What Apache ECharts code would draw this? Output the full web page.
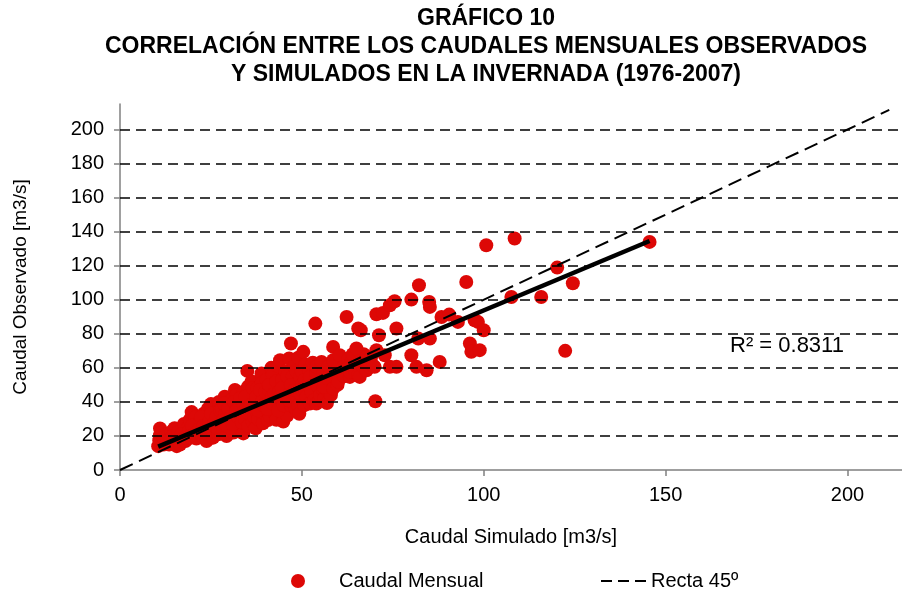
<!DOCTYPE html>
<html>
<head>
<meta charset="utf-8">
<script src="https://cdn.jsdelivr.net/npm/echarts@6/dist/echarts.min.js"></script>
<style>
  html, body { margin: 0; padding: 0; background: #fff; }
  #chart { width: 902px; height: 594px; }
</style>
</head>
<body>
<div id="chart"></div>
<script>
// caudal simulado / observado [m3/s]
const caudalMensual = [
  [10.5,14],[10.8,17.5],[11,20.5],[11,24.4],[11.6,22],[12,15],[12.4,18],[12.8,21],[12,19],[13,17],
  [13.5,15],[14,19],[14.2,22.5],[14.8,17],[15,24.5],[15.6,14],[15.8,20.5],[14.5,20],[16,17],[16,22],
  [16.5,15],[16.8,19],[17.4,23.5],[17.6,27],[18,17],[18.5,21],[18.8,25],[19.2,29.5],[17,21],[18,19],[19,23],
  [19.7,34],[19.5,19],[20,23],[20.3,27],[20.8,31],[21,18.5],[21.3,22],[21.6,26],[22,29],[19.8,26],[20.5,21],[21.8,24],
  [22.5,20],[22.8,24],[23,33],[23.3,28],[23.8,17],[24,21],[24.2,36],[24.5,31],[24.8,26],[22.3,31],[23,26],[23.5,22],[24.5,28],
  [25,38.7],[25.3,23],[25.6,19],[26,29],[26.3,34],[26.6,25],[27,21],[27.2,40],[27.5,31],[27.8,27],[25,33],[25.8,27],[26.5,31],[27,24],[27.5,35],
  [28,36],[28.4,23],[28.8,43],[29,33],[29.3,20],[29.6,29],[30,38],[30.3,25],[30.6,41],[30.9,35],[28.2,29],[28.6,39],[29.3,26],[29.8,36],[30.5,31],
  [31.2,22],[31.6,47],[31.8,30],[32,44],[32.3,27],[32.6,37],[33,33],[33.3,24],[33.6,40],[33.9,21.5],[34,46],[31,27],[31.4,40],[32,35],[32.5,31],[33,42],[33.5,28],[34,38],
  [34.4,30],[34.7,36],[35,58.2],[35.2,49],[35.3,26],[35.6,42],[35.8,33],[36.2,52],[36.5,28],[36.8,45],[37,39],[34.5,43],[35,34],[36,38],[36.5,48],[37,31],
  [37.3,24.5],[37.6,34],[37.8,48],[38,30],[38.3,42],[38.6,37],[38.9,56.7],[39,51],[39.3,27.5],[39.6,45],[39.9,33],[40,40],[37.5,43],[38,35],[38.5,47],[39,40],[39.5,38],[40,46],
  [40.3,53],[40.7,29.3],[41,47],[41.2,31.5],[41.4,37],[41.6,60],[41.8,43],[42,56],[42.3,34],[42.6,50],[43,29.5],[43,40],[40.5,36],[41,50],[42,39],[42.5,45],[43,52],
  [43.4,61],[43.7,46],[44,64.5],[44.2,36],[44.6,53],[44.9,35.2],[44.9,28.5],[45.2,42],[45.5,58],[45.8,49],[46,32],[43.5,35],[44,43],[44.5,48],[45,38],[46,55],
  [46.5,65.5],[46.7,45],[47,74.3],[47.2,39],[47,38],[47.5,55],[47.8,44],[48,61],[48.3,36],[48.6,51],[48.9,42],[49,66],[46.5,41],[47,50],[48,47],[48.5,58],[49,38],
  [49.3,33],[49.5,54.7],[49.5,45],[50,47],[50,50],[50,58],[51,46],[52,52],[53,44],[53.5,55],
  [50.4,69.4],[50.6,38],[50.8,53],[51,62],[51.3,43],[51.6,50],[52,58.6],[52.2,54.7],[52.2,39.1],[52.2,48.9],
  [52.6,46],[53,63],[53.4,41],[53.7,86],[54,56.7],[54,60.6],[54,39.1],[54.4,49],[54.9,41],[55,44],[55.4,63.5],
  [55.9,56.7],[55.9,46.9],[56.2,42],[56.5,52],[56.9,39.3],[57,47],[57.4,61],[57.7,48.9],[58,44],[58.6,52.8],
  [56,49],[57,54],[59,60],[60,62],[62,63],[64,61],[66,58],[67,68],
  [58.6,72.3],[58.6,64.5],[58.6,47.9],[59,56],[59.8,50],[60,52],[60.4,67.4],[60.8,58],[61,57],[61.4,60.6],
  [61.6,55],[62.3,59.6],[62.3,89.9],[62.8,65],[63.2,54.7],[63.2,57.7],[63.5,63],[64,68],[64.5,59],
  [65,71.4],[65.5,83.1],[65.5,55.7],[65.9,54.7],[66,64],[66.2,82.1],[66.8,60.6],[67.8,58.6],[67.8,66.5],
  [68,63],[68.7,60.6],[69,66],[69.6,61.2],[70,60.6],[70.2,40.4],[70.5,70.4],[70.5,91.5],[71.2,79.2],
  [72.3,92.3],[72.8,67.4],[74.2,60.6],[74.2,96.8],[75.5,99.1],[76,60.6],[76,83.1],
  [80.1,100.1],[80.1,67.4],[81.5,60.6],[82,77.2],[82.2,108.5],[84.3,58.6],[85,98.7],[85.2,95.8],[85.2,77.2],
  [87.9,63.5],[88.4,89.9],[90.5,91.3],[92.9,87],[95.2,110.4],[96.2,74.3],[96.6,69.4],[97.5,88],[98.4,87],
  [98.9,70.4],[100,82.1],[100.7,132],[107.6,101.6],[108.5,136],[115.8,101.6],[120.2,118.9],[122.4,70],
  [124.5,109.7],[145.6,134]
];
// recta de regresion (extremos) y recta 45 grados
const rectaTendencia = [[10.5, 13.7], [145.6, 134.5]];
const recta45 = [[0, 0], [211.5, 211.5]];
const ejeX = [0, 50, 100, 150, 200];
const ejeY = [0, 20, 40, 60, 80, 100, 120, 140, 160, 180, 200];
const r2 = 0.8311;

const FONT = 'Liberation Sans';
const myChart = echarts.init(document.getElementById('chart'));

const option = {
  animation: false,
  backgroundColor: '#fff',
  textStyle: { fontFamily: FONT, color: '#000' },
  title: {
    text: 'GRÁFICO 10\nCORRELACIÓN ENTRE LOS CAUDALES MENSUALES OBSERVADOS\nY SIMULADOS EN LA INVERNADA (1976-2007)',
    left: 486,
    top: 5,
    padding: 0,
    textAlign: 'center',
    textStyle: { fontFamily: FONT, fontSize: 23, fontWeight: 'bold', color: '#000', lineHeight: 28 }
  },
  legend: [
    {
      data: ['Caudal Mensual'],
      left: 286, top: 566,
      icon: 'circle',
      itemWidth: 14, itemHeight: 14,
      textStyle: { fontFamily: FONT, fontSize: 20, color: '#000', padding: [0, 0, 0, 29] }
    },
    {
      data: ['Recta 45º'],
      left: 596, top: 566,
      // tres guiones, como el original
      icon: 'path://M0,0h11v2h-11z M17,0h11v2h-11z M34,0h11v2h-11z',
      itemWidth: 45, itemHeight: 2,
      itemStyle: { color: '#000' },
      textStyle: { fontFamily: FONT, fontSize: 20, color: '#000' }
    }
  ],
  grid: { left: 120, right: 0, top: 104, bottom: 124 },
  xAxis: {
    type: 'value', min: 0, max: 215,
    name: 'Caudal Simulado [m3/s]',
    nameLocation: 'middle', nameGap: 57,
    nameTextStyle: { fontFamily: FONT, fontSize: 20, color: '#000' },
    axisLine: { lineStyle: { color: '#808080', width: 1.5 } },
    axisTick: { show: true, length: 6, customValues: ejeX, lineStyle: { color: '#808080', width: 1.5 } },
    axisLabel: { customValues: ejeX, margin: 15, fontFamily: FONT, fontSize: 20, color: '#000' },
    splitLine: { show: false }
  },
  yAxis: {
    type: 'value', min: 0, max: 215,
    name: 'Caudal Observado [m3/s]',
    nameLocation: 'middle', nameGap: 90,
    nameTextStyle: { fontFamily: FONT, fontSize: 19, color: '#000' },
    axisLine: { show: true, lineStyle: { color: '#808080', width: 1.5 } },
    axisTick: { show: true, length: 6, customValues: ejeY, lineStyle: { color: '#808080', width: 1.5 } },
    axisLabel: { customValues: ejeY, margin: 16, fontFamily: FONT, fontSize: 20, color: '#000' },
    splitLine: { show: false }
  },
  graphic: [
    {
      type: 'text', left: 730, top: 335,
      style: { text: 'R² = ' + r2, font: '22px "Liberation Sans"', fill: '#000' }
    }
  ],
  series: [
    {
      // lineas de division punteadas
      type: 'line', data: [], silent: true, z: 1,
      markLine: {
        silent: true, symbol: 'none', label: { show: false },
        lineStyle: { color: '#000', type: [10, 6], width: 1.5 },
        data: ejeY.filter(v => v > 0).map(v => ({ yAxis: v }))
      }
    },
    {
      name: 'Caudal Mensual',
      type: 'scatter',
      symbolSize: 14,
      itemStyle: { color: '#dd0806', opacity: 1 },
      z: 2,
      data: caudalMensual
    },
    {
      name: 'Recta 45º',
      type: 'line',
      showSymbol: false, symbol: 'none',
      lineStyle: { color: '#000', width: 2, type: [14, 7] },
      itemStyle: { color: '#000' },
      z: 3,
      data: recta45
    },
    {
      name: 'Tendencia',
      type: 'line',
      showSymbol: false, symbol: 'none',
      lineStyle: { color: '#000', width: 4.5 },
      z: 4,
      data: rectaTendencia
    }
  ]
};
myChart.setOption(option);
</script>
</body>
</html>
